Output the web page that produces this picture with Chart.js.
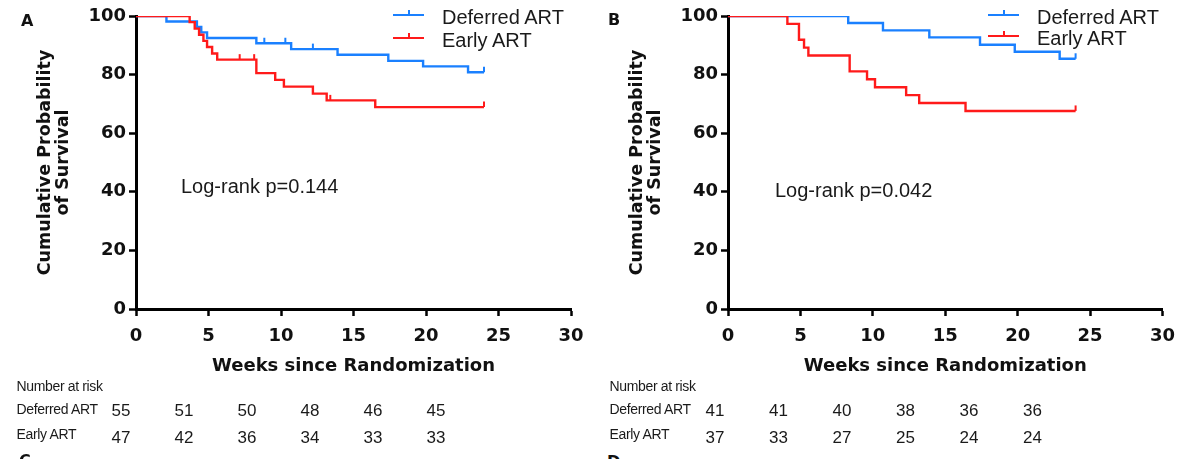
<!DOCTYPE html>
<html><head><meta charset="utf-8">
<script src="https://cdn.jsdelivr.net/npm/chart.js@4.4.1/dist/chart.umd.min.js"></script>
<style>
html,body{margin:0;padding:0;width:1195px;height:459px;overflow:hidden;background:#fff;}
#wrap{position:relative;width:1195px;height:459px;overflow:hidden;}
canvas{position:absolute;top:0;}
.t{position:absolute;white-space:nowrap;color:#1a1a1a;font-family:"Liberation Sans",Arial,sans-serif;}
.leg{font-size:20px;line-height:20px;}
.lr{font-size:20px;line-height:20px;}
.lab{font-size:14px;line-height:14px;letter-spacing:-0.35px;}
.num{font-size:17px;line-height:17px;width:40px;margin-left:-20px;text-align:center;}
.pl{font-family:"DejaVu Sans",sans-serif;font-weight:bold;font-size:16px;line-height:16px;color:#111;}
.mk{position:absolute;}
</style></head>
<body><div id="wrap">
<canvas id="cA" width="595" height="380" style="left:0px"></canvas>
<canvas id="cB" width="600" height="380" style="left:595px"></canvas>
</div>
<script>
// ---- data ----
const seriesNames = ['Deferred ART', 'Early ART'];
const weeksDeferredA = [0, 2.1, 4.2, 4.5, 4.9, 8.3, 10.7, 13.9, 17.4, 19.8, 22.9, 24];
const survDeferredA  = [100, 98.1, 96.3, 94.4, 92.5, 90.7, 88.7, 86.8, 84.7, 82.8, 80.8, 80.8];
const censorDeferredA = [8.85, 10.3, 12.2, 24];
const weeksEarlyA = [0, 3.7, 4.05, 4.35, 4.65, 4.9, 5.25, 5.6, 8.3, 9.6, 10.2, 12.2, 13.15, 16.5, 24];
const survEarlyA  = [100, 97.9, 95.7, 93.6, 91.5, 89.4, 87.2, 85.1, 80.5, 78.2, 75.9, 73.5, 71.2, 68.9, 68.9];
const censorEarlyA = [7.15, 8.15, 13.4, 24];
const weeksDeferredB = [0, 8.3, 10.7, 13.9, 17.4, 19.8, 22.9, 24];
const survDeferredB  = [100, 97.6, 95.1, 92.7, 90.2, 87.8, 85.4, 85.4];
const censorDeferredB = [24];
const weeksEarlyB = [0, 4.1, 4.9, 5.25, 5.55, 8.4, 9.6, 10.15, 12.3, 13.2, 16.4, 24];
const survEarlyB  = [100, 97.3, 91.9, 89.2, 86.5, 81.1, 78.4, 75.7, 73.0, 70.3, 67.6, 67.6];
const censorEarlyB = [24];
const riskDeferredA = [55, 51, 50, 48, 46, 45];
const riskEarlyA    = [47, 42, 36, 34, 33, 33];
const riskDeferredB = [41, 41, 40, 38, 36, 36];
const riskEarlyB    = [37, 33, 27, 25, 24, 24];
const pValueA = 'Log-rank p=0.144';
const pValueB = 'Log-rank p=0.042';

// ---- styles ----
const BLUE = '#1a80ff', RED = '#ff1a1a';
const boldFont = (s) => ({family: 'DejaVu Sans', weight: 'bold', size: s});

function pts(xs, ys){ return xs.map((x,i)=>({x:x, y:ys[i]})); }

const censorTicks = {
  id: 'censorTicks',
  afterDatasetsDraw(chart){
    const {ctx} = chart; const xs = chart.scales.x, ys = chart.scales.y;
    chart.data.datasets.forEach(ds=>{
      ctx.save(); ctx.strokeStyle = ds.borderColor; ctx.lineWidth = 2;
      (ds.censor||[]).forEach(t=>{
        let v = ds.data[0].y;
        ds.data.forEach(p=>{ if (p.x <= t) v = p.y; });
        const px = xs.getPixelForValue(t), py = ys.getPixelForValue(v);
        ctx.beginPath(); ctx.moveTo(px, py); ctx.lineTo(px, py - 5.5); ctx.stroke();
      });
      ctx.restore();
    });
  }
};

function makeChart(id, dXs, dYs, dC, eXs, eYs, eC, yWidth, padRight, titlePad){
  return new Chart(document.getElementById(id), {
    type: 'line',
    data: { datasets: [
      {label: seriesNames[0], data: pts(dXs, dYs), censor: dC, borderColor: BLUE, borderWidth: 2.4, pointRadius: 0, stepped: true, fill: false, order: 2},
      {label: seriesNames[1], data: pts(eXs, eYs), censor: eC, borderColor: RED, borderWidth: 2.4, pointRadius: 0, stepped: true, fill: false, order: 1}
    ]},
    options: {
      responsive: false, animation: false, devicePixelRatio: 1,
      layout: {padding: {left: 0, right: padRight, top: 16, bottom: 0}},
      plugins: {legend: {display: false}, tooltip: {enabled: false}},
      scales: {
        x: {type: 'linear', min: 0, max: 30,
          ticks: {stepSize: 5, autoSkip: false, maxRotation: 0, color: '#111', font: boldFont(18), padding: 10},
          grid: {drawOnChartArea: false, drawTicks: true, tickLength: 7, tickWidth: 2.5, tickColor: '#000'},
          border: {display: true, color: '#000', width: 3},
          title: {display: true, text: 'Weeks since Randomization', color: '#111', font: boldFont(18), padding: {top: 0, bottom: 3}},
          afterFit(s){ s.height = 71; }
        },
        y: {type: 'linear', min: 0, max: 100,
          ticks: {stepSize: 20, color: '#111', font: boldFont(18), padding: 3},
          grid: {drawOnChartArea: false, drawTicks: true, tickLength: 7, tickWidth: 2.5, tickColor: '#000'},
          border: {display: true, color: '#000', width: 3},
          title: {display: true, text: ['Cumulative Probability', 'of Survival'], color: '#111',
                  font: {family: 'DejaVu Sans', weight: 'bold', size: 17.5, lineHeight: 1.05}, padding: {top: titlePad, bottom: 0}},
          afterFit(s){ s.width = yWidth; }
        }
      }
    },
    plugins: [censorTicks]
  });
}

makeChart('cA', weeksDeferredA, survDeferredA, censorDeferredA, weeksEarlyA, survEarlyA, censorEarlyA, 136, 24, 36);
makeChart('cB', weeksDeferredB, survDeferredB, censorDeferredB, weeksEarlyB, survEarlyB, censorEarlyB, 133, 32.5, 33);

// ---- HTML text overlays ----
const wrap = document.getElementById('wrap');
function txt(cls, s, left, top){ const d = document.createElement('div'); d.className = 't ' + cls; d.textContent = s; d.style.left = left + 'px'; d.style.top = top + 'px'; wrap.appendChild(d); return d; }
function mark(color, left, top, w, h){ const d = document.createElement('div'); d.className = 'mk'; d.style.cssText += `left:${left}px;top:${top}px;width:${w}px;height:${h}px;background:${color}`; wrap.appendChild(d); }

function legend(x0, y0, gap, textLeft){
  [BLUE, RED].forEach((c,i)=>{
    const y = y0 + i*gap;
    mark(c, x0, y - 1, 31, 2);
    mark(c, x0 + 15, y - 5, 2, 5);
    txt('leg', seriesNames[i], textLeft, y - 8);
  });
}
legend(393, 15, 22.5, 442);
legend(988, 15, 20.5, 1037);

txt('lr', pValueA, 181, 175.5);
txt('lr', pValueB, 775, 180);

txt('pl', 'A', 21, 13);
txt('pl', 'B', 608, 12);
txt('pl', 'C', 19, 453);
txt('pl', 'D', 607, 454);

function riskTable(left, numStart, numStep, dVals, eVals){
  txt('lab', 'Number at risk', left, 379);
  txt('lab', seriesNames[0], left, 401.5);
  txt('lab', seriesNames[1], left, 426.5);
  dVals.forEach((v,i)=> txt('num', String(v), numStart + i*numStep, 402));
  eVals.forEach((v,i)=> txt('num', String(v), numStart + i*numStep, 428.5));
}
riskTable(16.5, 121, 63, riskDeferredA, riskEarlyA);
riskTable(609.5, 715, 63.5, riskDeferredB, riskEarlyB);
</script>
</body></html>
